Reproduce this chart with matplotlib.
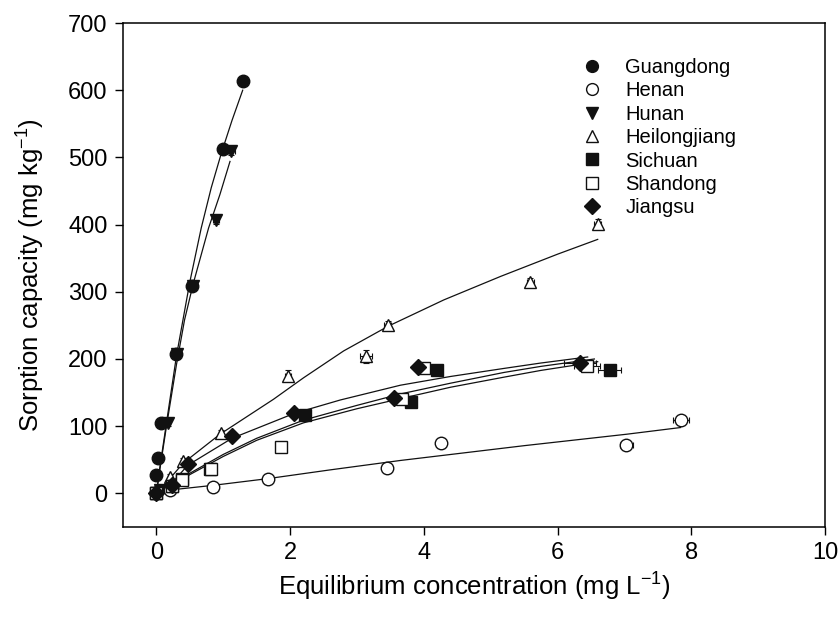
import numpy as np
import matplotlib
matplotlib.use("Agg")
import matplotlib.pyplot as plt

plt.rcParams["font.family"] = ["Liberation Sans", "DejaVu Sans"]
plt.rcParams["mathtext.default"] = "regular"

# -------------------------
# Data
# -------------------------

names = ["Guangdong", "Henan", "Hunan", "Heilongjiang", "Sichuan", "Shandong", "Jiangsu"]

# measured points
gd_x = [0.0, 0.0, 0.02, 0.07, 0.29, 0.53, 1.0, 1.29]
gd_y = [0, 27, 53, 105, 208, 309, 512, 614]
gd_xerr = [0.02, 0.02, 0.02, 0.03, 0.03, 0.03, 0.04, 0.03]
gd_yerr = [4, 4, 4, 4, 5, 5, 5, 6]

hn_x = [0.0, 0.06, 0.17, 0.31, 0.55, 0.89, 1.12]
hn_y = [0, 5, 104, 207, 309, 407, 510]
hn_xerr = [0.02, 0.02, 0.03, 0.03, 0.03, 0.04, 0.05]
hn_yerr = [4, 4, 4, 4, 5, 6, 6]

he_x = [0.0, 0.21, 0.85, 1.67, 3.45, 4.26, 7.03, 7.84]
he_y = [0, 5, 10, 21, 38, 75, 72, 109]
he_xerr = [0.02, 0.03, 0.03, 0.04, 0.05, 0.05, 0.10, 0.12]
he_yerr = [3, 3, 4, 4, 7, 8, 6, 6]

hl_x = [0.0, 0.20, 0.40, 0.96, 1.97, 3.13, 3.46, 5.59, 6.60]
hl_y = [0, 25, 48, 90, 175, 204, 251, 314, 401]
hl_xerr = [0.02, 0.02, 0.03, 0.03, 0.04, 0.09, 0.05, 0.05, 0.05]
hl_yerr = [3, 4, 4, 5, 8, 10, 6, 6, 8]

sc_x = [0.0, 0.23, 0.38, 0.80, 2.22, 3.81, 4.19, 6.78]
sc_y = [0, 11, 21, 37, 116, 136, 183, 184]
sc_xerr = [0.02, 0.03, 0.03, 0.03, 0.05, 0.05, 0.05, 0.17]
sc_yerr = [3, 4, 4, 4, 6, 5, 5, 5]

sd_x = [0.0, 0.23, 0.38, 0.82, 1.86, 3.67, 4.00, 6.44]
sd_y = [0, 11, 20, 37, 69, 140, 187, 190]
sd_xerr = [0.02, 0.03, 0.03, 0.05, 0.04, 0.10, 0.10, 0.20]
sd_yerr = [3, 4, 4, 5, 6, 5, 5, 5]

js_x = [0.0, 0.23, 0.47, 1.13, 2.06, 3.55, 3.91, 6.33]
js_y = [0, 12, 43, 85, 120, 142, 188, 194]
js_xerr = [0.02, 0.03, 0.03, 0.03, 0.05, 0.05, 0.05, 0.24]
js_yerr = [3, 4, 4, 4, 5, 5, 5, 5]

# fitted curves
gd_cx = [0.0, 0.05, 0.15, 0.30, 0.50, 0.67, 0.82, 0.97, 1.13, 1.29]
gd_cy = [0, 38, 105, 205, 315, 395, 455, 506, 555, 600]

hn_cx = [0.0, 0.05, 0.15, 0.30, 0.42, 0.55, 0.78, 0.95, 1.10]
hn_cy = [0, 35, 100, 192, 258, 312, 395, 445, 494]

he_cx = [0.2, 0.85, 1.67, 2.6, 3.65, 4.24, 5.5, 7.03, 7.84]
he_cy = [5, 12, 22, 35, 49, 56, 71, 88, 98]

hl_cx = [0.2, 0.4, 0.95, 1.75, 2.2, 2.8, 3.47, 4.3, 5.15, 6.0, 6.6]
hl_cy = [22, 45, 88, 140, 172, 212, 249, 288, 323, 356, 378]

js_cx = [0.2, 0.47, 1.13, 2.06, 2.75, 3.65, 4.4, 5.2, 5.75, 6.45]
js_cy = [12, 42, 82, 119, 139, 161, 174, 186, 194, 203]

sd_cx = [0.2, 0.5, 1.0, 1.5, 2.2, 3.0, 3.65, 4.4, 5.2, 5.75, 6.55]
sd_cy = [8, 30, 58, 82, 109, 131, 148, 164, 180, 189, 200]

sc_cx = [0.2, 0.5, 1.0, 1.5, 2.2, 3.0, 3.65, 4.4, 5.2, 5.75, 6.6]
sc_cy = [8, 28, 55, 79, 105, 126, 141, 158, 173, 183, 196]

x_ticks = [0, 2, 4, 6, 8, 10]
y_ticks = [0, 100, 200, 300, 400, 500, 600, 700]


def main() -> None:
    fig = plt.figure(figsize=(8.38, 6.17), dpi=100)
    ax = fig.add_axes([0.1468, 0.1459, 0.8377, 0.8168])

    series = [
        (gd_x, gd_y, gd_xerr, gd_yerr, "o", "#111111", gd_cx, gd_cy),
        (he_x, he_y, he_xerr, he_yerr, "o", "white", he_cx, he_cy),
        (hn_x, hn_y, hn_xerr, hn_yerr, "v", "#111111", hn_cx, hn_cy),
        (hl_x, hl_y, hl_xerr, hl_yerr, "^", "white", hl_cx, hl_cy),
        (sc_x, sc_y, sc_xerr, sc_yerr, "s", "#111111", sc_cx, sc_cy),
        (sd_x, sd_y, sd_xerr, sd_yerr, "s", "white", sd_cx, sd_cy),
        (js_x, js_y, js_xerr, js_yerr, "D", "#111111", js_cx, js_cy),
    ]

    # curves first so the symbols sit on top
    for _, _, _, _, _, _, cx, cy in series:
        ax.plot(cx, cy, color="#111111", lw=0.9, zorder=2)

    handles = []
    for name, (x, y, xe, ye, m, fc, _, _) in zip(names, series):
        ms = 8 if m == "D" else 9
        ax.errorbar(x, y, xerr=xe, yerr=ye, fmt="none", ecolor="#111111",
                    elinewidth=0.8, capsize=2.5, capthick=0.8, zorder=3)
        h, = ax.plot(x, y, ls="none", marker=m, ms=ms, mfc=fc, mec="#111111",
                     mew=1.0, zorder=4, label=name)
        handles.append(h)

    ax.set_xlim(-0.5, 10)
    ax.set_ylim(-50, 700)
    ax.set_xticks(x_ticks)
    ax.set_yticks(y_ticks)
    ax.tick_params(direction="out", length=6, width=1.0, labelsize=17,
                   top=False, right=False, pad=5)
    for s in ax.spines.values():
        s.set_linewidth(1.1)

    ax.set_xlabel("Equilibrium concentration (mg L$^{-1}$)", fontsize=18.5, labelpad=5)
    ax.set_ylabel("Sorption capacity (mg kg$^{-1}$)", fontsize=18.5, labelpad=15)

    leg_handles = []
    for h in handles:
        lh, = ax.plot([], [], ls="none", marker=h.get_marker(),
                      ms=8.5 if h.get_marker() != "D" else 8,
                      mfc=h.get_markerfacecolor(), mec="#111111", mew=1.0)
        leg_handles.append(lh)
    ax.legend(leg_handles, names, loc="upper left", bbox_to_anchor=(0.641, 0.947),
              frameon=False, fontsize=14.5, handletextpad=1.1, labelspacing=0.22,
              handlelength=1.1, borderaxespad=0)

    fig.savefig("out.png", dpi=100)


if __name__ == "__main__":
    main()
